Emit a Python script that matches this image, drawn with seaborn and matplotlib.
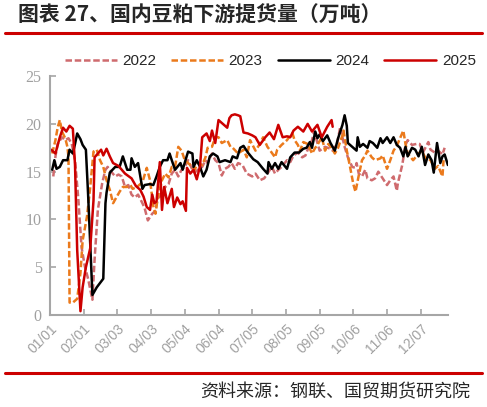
import matplotlib
matplotlib.use("Agg")
import matplotlib.pyplot as plt
import seaborn as sns
import pandas as pd

# ---- data (day offset from 01/01, value in 万吨) ----
days_2022 = [3,5,7,11,14,17,20,23,26,29,32,35,39,41,44,48,51,53,57,60,63,66,69,72,75,78,81,85,87,90,94,97,99,103,106,109,112,115,118,121,124,127,131,133,136,140,143,145,149,152,155,158,161,164,167,170,173,177,181,186,189,193,197,200,204,207,210,213,218,221,224,228,232,235,237,241,243,246,248,253,258,260,264,267,269,271,274,278,281,282,284,287,290,292,296,299,302,306,310,313,316,319,320,324,327,329,333,337,340,343,348,350,354,357,361,363]
vals_2022 = [14.5,16.6,17.9,18.6,18.3,18.5,17.9,16.2,12.2,7.1,5.1,3.8,1.6,5.8,11.0,13.8,15.2,15.5,14.9,14.5,14.7,14.5,13.4,13.6,12.6,12.3,12.6,11.7,11.2,9.9,10.6,10.9,12.2,12.6,13.4,13.7,14.8,15.2,14.5,15.2,15.5,16.2,15.2,14.9,15.2,15.5,16.2,15.9,16.9,16.2,15.9,14.6,15.3,15.5,15.9,15.3,15.9,15.7,14.8,14.5,14.8,14.1,14.3,14.8,15.5,14.8,15.2,15.5,16.2,16.0,16.7,17.0,16.5,16.7,17.3,18.3,19.2,18.0,17.2,17.6,17.4,17.2,17.9,19.7,18.6,17.6,16.5,15.5,15.4,15.9,14.8,14.5,15.2,14.3,14.1,14.3,15.0,14.3,13.6,14.1,14.5,13.0,13.8,15.7,17.8,18.3,17.8,17.9,17.9,17.0,18.1,17.3,17.0,17.2,16.8,17.5]

days_2023 = [2,5,7,9,11,14,16,17,18,21,25,28,30,34,37,40,43,46,49,52,55,58,62,64,67,71,74,76,80,85,89,92,95,97,99,103,106,109,112,115,118,121,124,127,131,133,136,140,143,145,149,152,155,158,163,166,168,173,178,181,184,189,193,196,200,202,207,209,213,218,221,223,225,228,230,233,237,241,244,246,250,253,256,259,262,265,269,270,273,276,279,281,284,287,290,292,296,299,304,306,310,313,316,319,322,325,327,329,334,339,342,345,350,354,357,361,362]
vals_2023 = [16.9,18.3,19.6,20.4,19.2,18.5,17.6,16.5,1.3,1.3,1.7,4.4,7.8,10.3,13.4,17.1,17.3,16.2,15.5,14.1,13.1,11.7,12.5,12.9,13.4,13.4,13.6,13.2,13.4,13.9,15.4,14.1,11.4,10.6,12.2,14.1,14.8,14.4,15.5,15.5,17.6,17.2,16.2,15.9,15.5,15.2,15.9,15.7,16.5,17.5,17.6,18.6,18.6,18.0,18.3,17.6,17.5,16.9,17.3,16.5,18.3,17.2,17.9,18.6,17.6,17.3,16.5,17.3,17.8,18.3,18.8,19.0,18.3,17.8,17.2,18.1,17.9,16.9,17.5,17.8,18.6,17.2,17.9,17.5,16.9,17.5,18.8,19.3,17.2,15.5,13.7,12.9,14.6,16.2,16.7,17.2,16.5,16.2,16.4,16.7,15.3,16.2,17.2,17.7,18.5,19.3,17.9,16.9,16.2,16.9,17.2,16.5,16.2,15.3,15.6,14.5,16.2]

days_2024 = [2,4,6,9,12,16,18,21,23,25,28,30,33,35,39,43,49,51,52,55,60,64,67,71,74,75,78,81,85,87,92,95,98,101,104,108,110,112,115,120,122,127,131,132,135,138,141,144,147,150,154,156,161,166,168,172,175,178,182,187,191,196,200,201,204,207,210,213,218,221,225,229,233,236,239,241,244,246,248,251,255,258,262,265,267,269,271,273,274,278,282,283,285,288,292,294,297,301,304,306,310,313,316,319,322,325,327,329,333,336,339,342,345,348,351,353,356,359,361,363,366]
vals_2024 = [15.2,16.2,15.3,15.5,16.2,16.2,17.3,16.9,17.9,19.0,18.4,17.8,17.3,12.7,2.1,2.9,3.8,11.7,12.8,14.9,15.5,15.5,16.6,15.2,15.2,16.4,15.5,15.9,13.2,13.6,13.7,13.6,14.5,15.5,16.2,16.2,16.9,16.2,15.2,15.9,15.2,17.1,16.9,15.5,16.2,15.5,14.5,15.2,16.6,16.9,16.6,16.0,16.2,16.0,16.6,16.4,17.5,17.7,17.0,16.3,16.0,15.3,14.8,16.0,15.3,15.9,15.3,16.0,15.3,16.5,17.0,17.0,17.4,17.5,18.1,17.5,19.2,18.5,18.9,18.2,18.8,18.0,17.2,18.5,19.2,19.9,20.9,19.8,18.0,17.6,17.2,18.6,17.6,17.9,17.5,18.2,18.0,17.5,18.5,18.0,18.6,18.0,18.6,17.8,17.5,16.6,17.6,16.6,17.5,17.3,16.6,17.6,15.7,16.8,16.2,14.9,18.0,15.9,16.6,16.8,15.7]

days_2025 = [1,5,9,12,15,18,21,23,25,28,30,33,37,40,41,44,47,49,52,55,58,63,69,75,79,83,86,89,92,94,96,98,101,103,105,108,112,114,117,120,122,125,126,129,132,135,138,140,144,147,149,152,155,159,163,165,167,170,173,175,178,182,186,189,193,198,202,206,210,214,218,221,224,228,233,237,241,246,250,255,259,260]
vals_2025 = [17.3,16.9,18.6,19.6,19.2,19.8,19.5,15.7,6.8,0.4,2.9,5.0,7.0,12.0,16.5,16.9,17.3,16.7,17.4,16.6,15.9,15.6,14.8,14.3,13.5,13.1,12.4,11.3,11.0,12.6,11.7,11.9,16.0,11.0,13.4,11.7,13.2,11.3,12.3,11.6,11.9,10.9,15.4,14.8,15.2,14.2,15.6,18.6,19.0,18.2,19.3,18.0,20.4,20.0,19.6,20.6,20.9,21.0,20.9,20.8,19.1,19.0,18.8,18.6,17.8,18.6,19.1,18.4,19.9,18.6,18.7,18.6,19.3,19.7,19.2,20.0,19.2,19.9,18.6,19.7,20.4,19.7]

years = ["2022", "2023", "2024", "2025"]
tick_labels = ["01/01", "02/01", "03/03", "04/03", "05/04", "06/04",
               "07/05", "08/05", "09/05", "10/06", "11/06", "12/07"]
y_ticks = [0, 5, 10, 15, 20, 25]

title_text = "图表 27、国内豆粕下游提货量（万吨）"
source_text = "资料来源：钢联、国贸期货研究院"

series = {
    "2022": (days_2022, vals_2022),
    "2023": (days_2023, vals_2023),
    "2024": (days_2024, vals_2024),
    "2025": (days_2025, vals_2025),
}

# ---- styling ----
sns.set_theme(style="white")
plt.rcParams["font.family"] = ["Liberation Sans", "Noto Sans CJK SC", "DejaVu Sans"]

colors = {"2022": "#CF6B6E", "2023": "#EB7A1C", "2024": "#000000", "2025": "#CC0000"}
styles = {"2022": (0, (2.6, 1.1)), "2023": (0, (2.6, 1.1)), "2024": "-", "2025": "-"}

fig = plt.figure(figsize=(4.87, 4.07), dpi=100)
ax = fig.add_axes([0.1027, 0.226, 0.817, 0.587])

for yr in years:
    d, v = series[yr]
    df = pd.DataFrame({"day": d, "val": v})
    sns.lineplot(data=df, x="day", y="val", ax=ax, color=colors[yr],
                 linewidth=1.8, linestyle=styles[yr], label=yr, sort=False)

ax.set_xlim(0, 366)
ax.set_ylim(0, 25)
ax.set_xlabel("")
ax.set_ylabel("")

ax.set_xticks([31 * i for i in range(len(tick_labels))])
ax.set_xticklabels(tick_labels, rotation=45, ha="right", rotation_mode="anchor",
                   fontsize=10, color="#A0A0A0", family="Liberation Sans")
ax.set_yticks(y_ticks)
ax.set_yticklabels([str(t) for t in y_ticks], fontsize=11.5, color="#A0A0A0",
                   family="Liberation Serif")

for s in ["top", "right"]:
    ax.spines[s].set_visible(False)
for s in ["left", "bottom"]:
    ax.spines[s].set_color("#A6A6A6")
    ax.spines[s].set_linewidth(1.5)
ax.tick_params(axis="both", direction="in", length=4, width=1.2, color="#A6A6A6",
               bottom=True, left=True)
ax.tick_params(axis="x", pad=5)
ax.tick_params(axis="y", pad=6)

ax.get_legend().remove()
handles, labels = ax.get_legend_handles_labels()
fig.legend(handles, labels, loc="center", bbox_to_anchor=(0.555, 0.85), ncol=4,
           frameon=False, handlelength=3.4, handletextpad=0.35,
           columnspacing=1.0, prop={"family": "Liberation Sans", "size": 11})

# title and rules
fig.text(0.037, 0.962, title_text, fontsize=15, fontweight="bold",
         family=["Noto Sans CJK SC", "DejaVu Sans"], va="center", ha="left")
fig.add_artist(plt.Line2D([0.01, 0.99], [0.918, 0.918], color="#CC0000", linewidth=2.2))
fig.add_artist(plt.Line2D([0.01, 0.99], [0.084, 0.084], color="#CC0000", linewidth=2.2))
fig.text(0.965, 0.036, source_text, fontsize=13,
         family=["Noto Sans CJK SC", "DejaVu Sans"], va="center", ha="right")

fig.savefig("out.png", dpi=100)
